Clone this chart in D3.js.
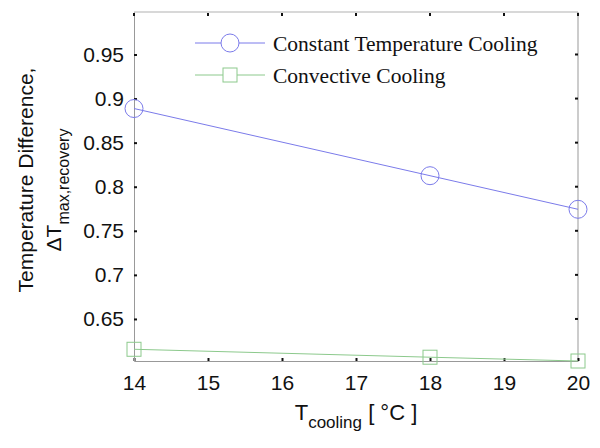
<!DOCTYPE html>
<html><head><meta charset="utf-8">
<script src="https://cdn.jsdelivr.net/npm/d3@7"></script>
<style>body{margin:0;background:#fff}svg{display:block}</style>
</head><body><div id="chart"></div>
<script>
const xValues = [14, 18, 20];
const constantTemp = [0.8887, 0.8125, 0.7744];
const convective = [0.6156, 0.6066, 0.6023];
const seriesNames = ["Constant Temperature Cooling", "Convective Cooling"];
const xTicks = [14, 15, 16, 17, 18, 19, 20];
const yTicks = [0.65, 0.7, 0.75, 0.8, 0.85, 0.9, 0.95];

const W = 600, H = 448;
const m = {left: 134, top: 12, right: 22, bottom: 87};
const svg = d3.select("#chart").append("svg").attr("width", W).attr("height", H);
const x = d3.scaleLinear().domain([14, 20]).range([m.left, W - m.right]);
const y = d3.scaleLinear().domain([0.6023, 0.9982]).range([H - m.bottom, m.top]);

// box
const x0 = x.range()[0], x1 = x.range()[1], y0 = y.range()[0], y1 = y.range()[1];
svg.append("line").attr("x1", x0).attr("x2", x1).attr("y1", y1).attr("y2", y1).attr("stroke", "#d8d8d8").attr("stroke-width", 2);
svg.append("line").attr("x1", x1).attr("x2", x1).attr("y1", y1).attr("y2", y0).attr("stroke", "#999").attr("stroke-width", 1);

const font = "Arial, 'Liberation Sans', sans-serif";
const xAxis = svg.append("g").attr("transform", `translate(0,${y0})`)
  .call(d3.axisBottom(x).tickValues(xTicks).tickFormat(d3.format("d")).tickSizeInner(-3).tickSizeOuter(0).tickPadding(14));
const yAxis = svg.append("g").attr("transform", `translate(${x0},0)`)
  .call(d3.axisLeft(y).tickValues(yTicks).tickFormat(d => String(+d.toFixed(2))).tickSizeInner(-3).tickSizeOuter(0).tickPadding(10));
[xAxis, yAxis].forEach(g => {
  g.select(".domain").attr("stroke", "#999");
  g.selectAll(".tick line").attr("stroke", "#111").attr("stroke-width", 2);
  g.selectAll(".tick text").attr("font-family", font).attr("font-size", 21).attr("fill", "#111");
});
// top & right ticks
svg.append("g").selectAll("line").data(xTicks).join("line")
  .attr("x1", d => x(d)).attr("x2", d => x(d)).attr("y1", y1 + 1).attr("y2", y1 + 4).attr("stroke", "#111").attr("stroke-width", 2);
svg.append("g").selectAll("line").data(yTicks).join("line")
  .attr("x1", x1 - 3).attr("x2", x1).attr("y1", d => y(d)).attr("y2", d => y(d)).attr("stroke", "#111").attr("stroke-width", 2);

const line = d3.line().x((d, i) => x(xValues[i])).y(d => y(d));
const blue = "#7b7bea", green = "#8cc98c";
svg.append("path").datum(constantTemp).attr("d", line).attr("fill", "none").attr("stroke", blue).attr("stroke-width", 1);
svg.append("path").datum(convective).attr("d", line).attr("fill", "none").attr("stroke", green).attr("stroke-width", 1);
svg.append("g").selectAll("circle").data(constantTemp).join("circle")
  .attr("cx", (d, i) => x(xValues[i])).attr("cy", d => y(d)).attr("r", 9)
  .attr("fill", "none").attr("stroke", blue);
svg.append("g").selectAll("rect").data(convective).join("rect")
  .attr("x", (d, i) => x(xValues[i]) - 7).attr("y", d => y(d) - 7).attr("width", 14).attr("height", 14)
  .attr("fill", "none").attr("stroke", green);

// legend
const leg = svg.append("g");
const legY = [43, 75], colors = [blue, green];
seriesNames.forEach((n, i) => {
  leg.append("line").attr("x1", 195).attr("x2", 265).attr("y1", legY[i]).attr("y2", legY[i]).attr("stroke", colors[i]);
  if (i === 0) leg.append("circle").attr("cx", 230).attr("cy", legY[i]).attr("r", 9).attr("fill", "#fff").attr("stroke", colors[i]);
  else leg.append("rect").attr("x", 223).attr("y", legY[i] - 7).attr("width", 14).attr("height", 14).attr("fill", "#fff").attr("stroke", colors[i]);
  leg.append("text").attr("x", 273).attr("y", legY[i]).attr("dy", "0.35em")
    .attr("font-family", "'Times New Roman', 'Liberation Serif', serif").attr("font-size", 21.5).attr("fill", "#111").text(n);
});

// axis labels
const xl = svg.append("text").attr("x", (x0 + x1) / 2).attr("y", 420).attr("text-anchor", "middle")
  .attr("font-family", font).attr("font-size", 22).attr("fill", "#111");
xl.append("tspan").text("T");
xl.append("tspan").attr("font-size", 17).attr("dy", 8).text("cooling");
xl.append("tspan").attr("dy", -8).text(" [ \u00B0C ]");

const yl = svg.append("g").attr("transform", "translate(0,180) rotate(-90)");
yl.append("text").attr("x", 0).attr("y", 33).attr("text-anchor", "middle")
  .attr("font-family", font).attr("font-size", 21).attr("fill", "#111").text("Temperature Difference,");
const yl2 = yl.append("text").attr("x", -10).attr("y", 61).attr("text-anchor", "middle")
  .attr("font-family", font).attr("font-size", 21).attr("fill", "#111");
yl2.append("tspan").text("\u0394T");
yl2.append("tspan").attr("font-size", 16).attr("dy", 8).text("max,recovery");
</script></body></html>
